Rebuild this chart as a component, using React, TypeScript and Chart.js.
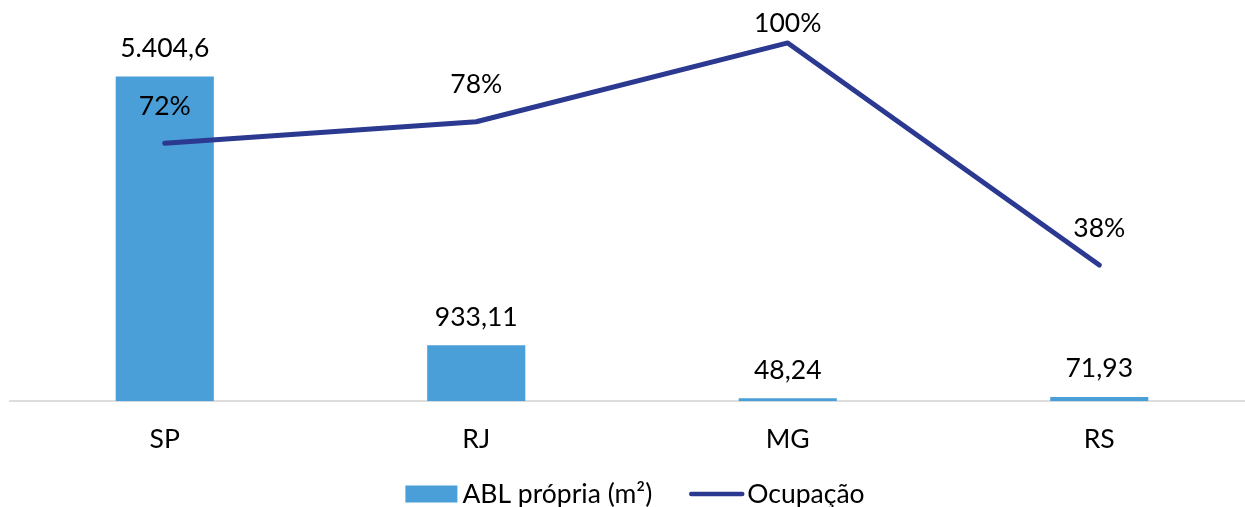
import { useEffect, useRef } from 'react';
import { Chart, registerables } from 'chart.js';

Chart.register(...registerables);

const categories = ['SP', 'RJ', 'MG', 'RS'];
const ablValues = [5404.6, 933.11, 48.24, 71.93];
const occupancyValues = [72, 78, 100, 38];
const seriesNames = ['ABL própria (m²)', 'Ocupação'];

const FONT = "Lato, 'Noto Sans', sans-serif";
const FONT_SIZE = 26.5;
const BAR_COLOR = '#4A9FD8';
const LINE_COLOR = '#2B3990';
const TEXT_COLOR = '#000000';

function fmtBR(v: number): string {
  const [i, d] = String(v).split('.');
  const int = i.replace(/\B(?=(\d{3})+(?!\d))/g, '.');
  return d ? int + ',' + d : int;
}

const valueLabelsPlugin = {
  id: 'valueLabels',
  afterDatasetsDraw(chart: any) {
    const ctx = chart.ctx;
    ctx.save();
    ctx.font = `${FONT_SIZE}px ${FONT}`;
    ctx.fillStyle = TEXT_COLOR;
    ctx.textAlign = 'center';
    ctx.textBaseline = 'middle';
    const barMeta = chart.getDatasetMeta(0);
    barMeta.data.forEach((el: any, i: number) => {
      ctx.fillText(fmtBR(ablValues[i]), el.x, el.y - 28);
    });
    const lineMeta = chart.getDatasetMeta(1);
    lineMeta.data.forEach((el: any, i: number) => {
      const y = Math.max(el.y - 37, chart.chartArea.top + 3);
      ctx.fillText(occupancyValues[i] + '%', el.x, y);
    });
    ctx.restore();
  },
};

const customLegendPlugin = {
  id: 'customLegend',
  afterDraw(chart: any) {
    const ctx = chart.ctx;
    ctx.save();
    ctx.font = `${FONT_SIZE}px ${FONT}`;
    const w1 = ctx.measureText(seriesNames[0]).width;
    const w2 = ctx.measureText(seriesNames[1]).width;
    const boxW = 52;
    const lineW = 55;
    const total = boxW + 5 + w1 + 37 + lineW + 3 + w2;
    let x = chart.width / 2 + 3 - total / 2;
    const y = 494;
    ctx.fillStyle = chart.data.datasets[0].backgroundColor;
    ctx.fillRect(x, y - 8.5, boxW, 17);
    x += boxW + 5;
    ctx.fillStyle = TEXT_COLOR;
    ctx.textAlign = 'left';
    ctx.textBaseline = 'middle';
    ctx.fillText(seriesNames[0], x, y);
    x += w1 + 37;
    ctx.strokeStyle = chart.data.datasets[1].borderColor;
    ctx.lineWidth = 4.5;
    ctx.lineCap = 'round';
    ctx.beginPath();
    ctx.moveTo(x + 2, y);
    ctx.lineTo(x + lineW - 2, y);
    ctx.stroke();
    x += lineW + 3;
    ctx.fillText(seriesNames[1], x, y);
    ctx.restore();
  },
};

export default function App() {
  const canvasRef = useRef<HTMLCanvasElement | null>(null);

  useEffect(() => {
    if (!canvasRef.current) return;
    const chart = new Chart(canvasRef.current, {
      type: 'bar',
      data: {
        labels: categories,
        datasets: [
          {
            type: 'bar',
            label: seriesNames[0],
            data: ablValues,
            backgroundColor: BAR_COLOR,
            yAxisID: 'y',
            barPercentage: 0.315,
            categoryPercentage: 1,
            order: 2,
          },
          {
            type: 'line',
            label: seriesNames[1],
            data: occupancyValues,
            borderColor: LINE_COLOR,
            backgroundColor: LINE_COLOR,
            borderWidth: 5,
            pointRadius: 0,
            yAxisID: 'y1',
            borderCapStyle: 'round',
            borderJoinStyle: 'round',
            tension: 0,
            order: 1,
          },
        ] as any,
      },
      options: {
        animation: false,
        responsive: false,
        layout: { padding: { top: 20, bottom: 30, left: 0, right: 0 } },
        scales: {
          x: {
            grid: { display: false, drawTicks: false },
            border: { display: true, color: '#DDDDDD', width: 2 },
            ticks: { font: { family: FONT, size: FONT_SIZE }, color: TEXT_COLOR, padding: 22 },
          },
          y: { display: false, min: 0, max: 6346 },
          y1: { display: false, min: 0, max: 106.4 },
        },
        plugins: {
          legend: { display: false },
          tooltip: { enabled: false },
        },
      },
      plugins: [valueLabelsPlugin, customLegendPlugin],
    });
    return () => chart.destroy();
  }, []);

  return (
    <div
      style={{
        position: 'fixed',
        left: 0,
        top: 0,
        width: 1245,
        height: 507,
        overflow: 'hidden',
        background: '#ffffff',
      }}
    >
      <canvas
        ref={canvasRef}
        width={1246}
        height={507}
        style={{ position: 'absolute', left: 9, top: 0, width: 1246, height: 507 }}
      />
    </div>
  );
}
